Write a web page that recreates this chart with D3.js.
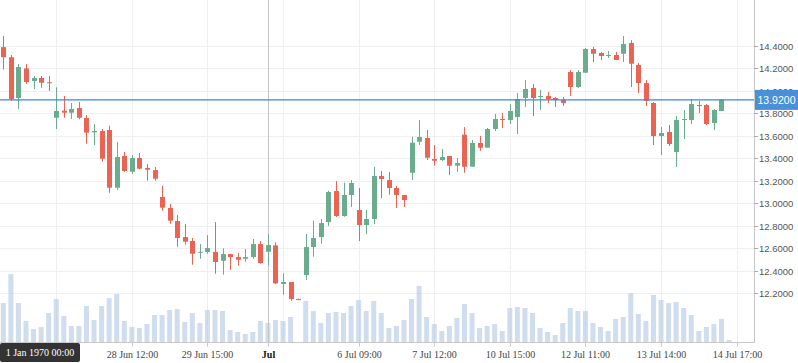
<!DOCTYPE html>
<html>
<head>
<meta charset="utf-8">
<script src="https://cdn.jsdelivr.net/npm/d3@7"></script>
<style>
  body { margin: 0; background: #fff; }
  svg { display: block; }
</style>
</head>
<body>
<svg class="chart" width="798" height="363"></svg>
<script>
// ohlc per bar
var opens  = [14.39,14.30,13.937,14.20,14.088,14.115,14.077,13.761,13.824,13.806,13.848,13.759,13.631,13.643,13.652,13.138,13.42,13.28,13.402,13.313,13.295,13.055,12.957,12.841,12.698,12.663,12.559,12.565,12.565,12.487,12.547,12.52,12.505,12.52,12.636,12.567,12.624,12.28,12.298,12.146,12.36,12.609,12.698,12.832,13.108,12.886,13.073,12.939,12.805,12.859,13.242,13.206,13.135,13.073,13.271,13.547,13.58,13.393,13.384,13.42,13.334,13.61,13.325,13.536,13.494,13.661,13.75,13.741,13.767,13.937,14.026,13.946,13.955,13.937,13.919,14.168,14.035,14.162,14.373,14.338,14.314,14.32,14.331,14.427,14.231,14.07,13.892,13.598,13.634,13.456,13.741,13.741,13.874,13.874,13.714,13.821,null]
var highs  = [14.49,14.32,14.24,14.24,14.133,14.133,14.133,14.032,13.955,13.892,13.901,13.785,13.705,13.661,13.69,13.545,13.456,13.429,13.447,13.349,13.322,13.153,12.992,12.894,12.814,12.69,12.636,12.716,12.832,12.598,12.55,12.556,12.592,12.681,12.663,12.725,12.651,12.375,12.298,12.15,12.725,12.844,12.859,13.111,13.197,13.182,13.206,13.135,12.939,13.322,13.286,13.277,13.153,13.073,13.592,13.741,13.652,13.518,13.482,13.42,13.402,13.678,13.563,13.598,13.67,13.794,13.803,13.883,13.981,14.097,14.061,14.008,13.99,13.946,13.946,14.186,14.186,14.382,14.391,14.347,14.355,14.347,14.489,14.453,14.249,14.097,13.901,13.678,13.696,13.776,13.83,13.928,13.91,13.883,13.839,13.928,null]
var lows   = [14.19,13.91,13.839,14.064,14.017,14.028,13.999,13.661,13.761,13.75,13.747,13.53,13.518,13.369,13.093,13.12,13.277,13.26,13.302,13.20,13.20,12.933,12.817,12.612,12.63,12.452,12.505,12.55,12.371,12.363,12.407,12.443,12.478,12.505,12.46,12.449,12.28,12.184,12.131,12.138,12.315,12.523,12.639,12.796,12.877,12.879,12.966,12.663,12.725,12.814,13.046,13.075,12.957,12.966,13.206,13.518,13.384,13.334,13.375,13.251,13.28,13.271,13.325,13.467,13.494,13.643,13.67,13.705,13.616,13.857,13.776,13.83,13.892,13.857,13.866,13.955,14.026,14.162,14.257,14.275,14.293,14.275,14.257,14.035,13.981,13.866,13.518,13.429,13.509,13.322,13.571,13.705,13.803,13.696,13.652,13.821,null]
var closes = [14.30,13.928,14.213,14.079,14.115,14.073,14.068,13.821,13.806,13.839,13.761,13.628,13.643,13.396,13.138,13.411,13.286,13.402,13.307,13.298,13.218,12.96,12.844,12.69,12.657,12.55,12.567,12.60,12.476,12.547,12.52,12.496,12.52,12.636,12.467,12.627,12.286,12.298,12.146,12.14,12.609,12.69,12.823,13.099,12.886,13.073,13.18,12.805,12.859,13.242,13.215,13.135,13.073,13.028,13.539,13.589,13.405,13.378,13.411,13.334,13.358,13.325,13.536,13.494,13.661,13.75,13.741,13.821,13.928,14.017,13.937,13.955,13.928,13.919,13.892,14.035,14.168,14.373,14.331,14.311,14.32,14.275,14.418,14.242,14.07,13.91,13.598,13.625,13.527,13.741,13.75,13.883,13.866,13.705,13.83,13.92,null]
var volumes = [395,685,395,215,135,155,295,435,265,165,165,365,225,365,445,485,215,155,145,185,275,275,325,335,205,295,195,325,325,315,125,105,85,105,215,195,225,215,255,5,415,315,195,295,305,295,365,425,315,415,295,145,165,225,435,565,255,185,115,165,245,385,295,145,165,185,115,345,355,345,295,145,105,75,195,345,315,315,195,155,115,235,255,495,285,215,475,425,395,405,345,275,115,155,185,235,25]

var priceTicks = [12.2,12.4,12.6,12.8,13.0,13.2,13.4,13.6,13.8,14.0,14.2,14.4]
var gridBars = [7,17,27,37,47,57,67,77,87,97]
var labelBars = [17,27,35,47,57,67,77,87,97]
var labelTexts = ["28 Jun 12:00","29 Jun 15:00","Jul","6 Jul 09:00","7 Jul 12:00","10 Jul 15:00","12 Jul 11:00","13 Jul 14:00","14 Jul 17:00"]
var crossBar = 35
var lastPrice = 13.92
var crossText = "1 Jan 1970 00:00"

var plotRight = 754
var plotBottom = 342.5

var bars = d3.range(volumes.length).map(i => ({
    i: i, open: opens[i], high: highs[i], low: lows[i], close: closes[i], volume: volumes[i]
}))

var x = d3.scaleLinear().domain([-0.44, 99.3]).range([0, plotRight])
var y = d3.scaleLinear().domain([14.4, 12.2]).range([46, 293])
var yVol = d3.scaleLinear().domain([0, 700]).range([plotBottom, 272.5])

var up = "#6aad8e", down = "#eb6353"

var chart = d3.select(".chart")

// grid
chart.append("g")
    .selectAll("line")
    .data(priceTicks)
    .enter().append("line")
    .attr("x1", 0).attr("x2", plotRight)
    .attr("y1", d => Math.round(y(d)) + 0.5).attr("y2", d => Math.round(y(d)) + 0.5)
    .attr("stroke", "#efefef")

chart.append("g")
    .selectAll("line")
    .data(gridBars)
    .enter().append("line")
    .attr("x1", d => Math.round(x(d)) + 0.5).attr("x2", d => Math.round(x(d)) + 0.5)
    .attr("y1", 0).attr("y2", plotBottom)
    .attr("stroke", "#efefef")

// volume
chart.append("g")
    .attr("fill", "#b0c7e3")
    .attr("fill-opacity", 0.6)
    .selectAll("rect")
    .data(bars)
    .enter().append("rect")
    .attr("x", d => x(d.i) - 2.5)
    .attr("width", 5)
    .attr("y", d => yVol(d.volume))
    .attr("height", d => plotBottom - yVol(d.volume))

// crosshair vertical line
chart.append("line")
    .attr("x1", Math.round(x(crossBar)) + 0.5).attr("x2", Math.round(x(crossBar)) + 0.5)
    .attr("y1", 0).attr("y2", plotBottom)
    .attr("stroke", "#c4c4c4")

// candles
var candle = chart.append("g")
    .selectAll("g")
    .data(bars.filter(d => d.open != null))
    .enter().append("g")
    .attr("fill", d => d.close >= d.open ? up : down)
    .attr("stroke", d => d.close >= d.open ? up : down)

candle.append("line")
    .attr("x1", d => Math.round(x(d.i)) + 0.5).attr("x2", d => Math.round(x(d.i)) + 0.5)
    .attr("y1", d => y(d.high)).attr("y2", d => y(d.low))
    .attr("stroke-width", 1)

candle.append("rect")
    .attr("stroke", "none")
    .attr("x", d => Math.round(x(d.i)) - 2)
    .attr("width", 5)
    .attr("y", d => y(Math.max(d.open, d.close)))
    .attr("height", d => Math.max(1, Math.abs(y(d.open) - y(d.close))))

// last price line
chart.append("line")
    .attr("x1", 0).attr("x2", plotRight)
    .attr("y1", y(lastPrice)).attr("y2", y(lastPrice))
    .attr("stroke", "#3a88d6")
    .attr("stroke-width", 1.2)

// axes frame
chart.append("line")
    .attr("x1", plotRight + 0.5).attr("x2", plotRight + 0.5)
    .attr("y1", 0).attr("y2", plotBottom)
    .attr("stroke", "#c8c8c8")
chart.append("line")
    .attr("x1", 0).attr("x2", plotRight + 1)
    .attr("y1", plotBottom).attr("y2", plotBottom)
    .attr("stroke", "#c8c8c8")

// right price axis
var yAxis = chart.append("g")
    .attr("font-family", "'Liberation Sans', Arial, sans-serif")
    .attr("font-size", 9.5)
    .attr("fill", "#555")
    .selectAll("g")
    .data(priceTicks)
    .enter().append("g")
    .attr("transform", d => `translate(${plotRight},${Math.round(y(d)) + 0.5})`)
yAxis.append("line").attr("x1", 0).attr("x2", 4).attr("stroke", "#aaa")
yAxis.append("text")
    .attr("x", 5)
    .attr("dy", "0.35em")
    .text(d => d.toFixed(4))

// bottom time axis
var xAxis = chart.append("g")
    .attr("font-family", "'Liberation Serif', 'Times New Roman', serif")
    .attr("font-size", 10)
    .attr("text-anchor", "middle")
    .selectAll("g")
    .data(labelBars)
    .enter().append("g")
    .attr("transform", d => `translate(${Math.round(x(d)) + 0.5},${plotBottom})`)
xAxis.append("line").attr("y1", 0).attr("y2", 4).attr("stroke", "#c8c8c8")
xAxis.append("text")
    .attr("y", 11.5)
    .attr("dy", "0.35em")
    .attr("fill", (d, k) => labelTexts[k] == "Jul" ? "#111" : "#444")
    .attr("font-weight", (d, k) => labelTexts[k] == "Jul" ? "bold" : null)
    .text((d, k) => labelTexts[k])

// last price tag
chart.append("rect")
    .attr("x", plotRight + 1).attr("y", y(lastPrice) - 10)
    .attr("width", 798 - plotRight - 1).attr("height", 20)
    .attr("fill", "#4a90d9")
chart.append("text")
    .attr("x", (plotRight + 799) / 2).attr("y", y(lastPrice))
    .attr("dy", "0.36em")
    .attr("text-anchor", "middle")
    .attr("font-family", "'Liberation Sans', Arial, sans-serif")
    .attr("font-size", 10.5)
    .attr("fill", "#fff")
    .text(lastPrice.toFixed(4))

// crosshair time tag
chart.append("rect")
    .attr("x", 0).attr("y", plotBottom + 0.5)
    .attr("width", 80).attr("height", 19)
    .attr("rx", 2)
    .attr("fill", "#333")
chart.append("text")
    .attr("x", 40).attr("y", plotBottom + 10)
    .attr("dy", "0.35em")
    .attr("text-anchor", "middle")
    .attr("font-family", "'Liberation Serif', 'Times New Roman', serif")
    .attr("font-size", 10)
    .attr("fill", "#fff")
    .text(crossText)
</script>
</body>
</html>
